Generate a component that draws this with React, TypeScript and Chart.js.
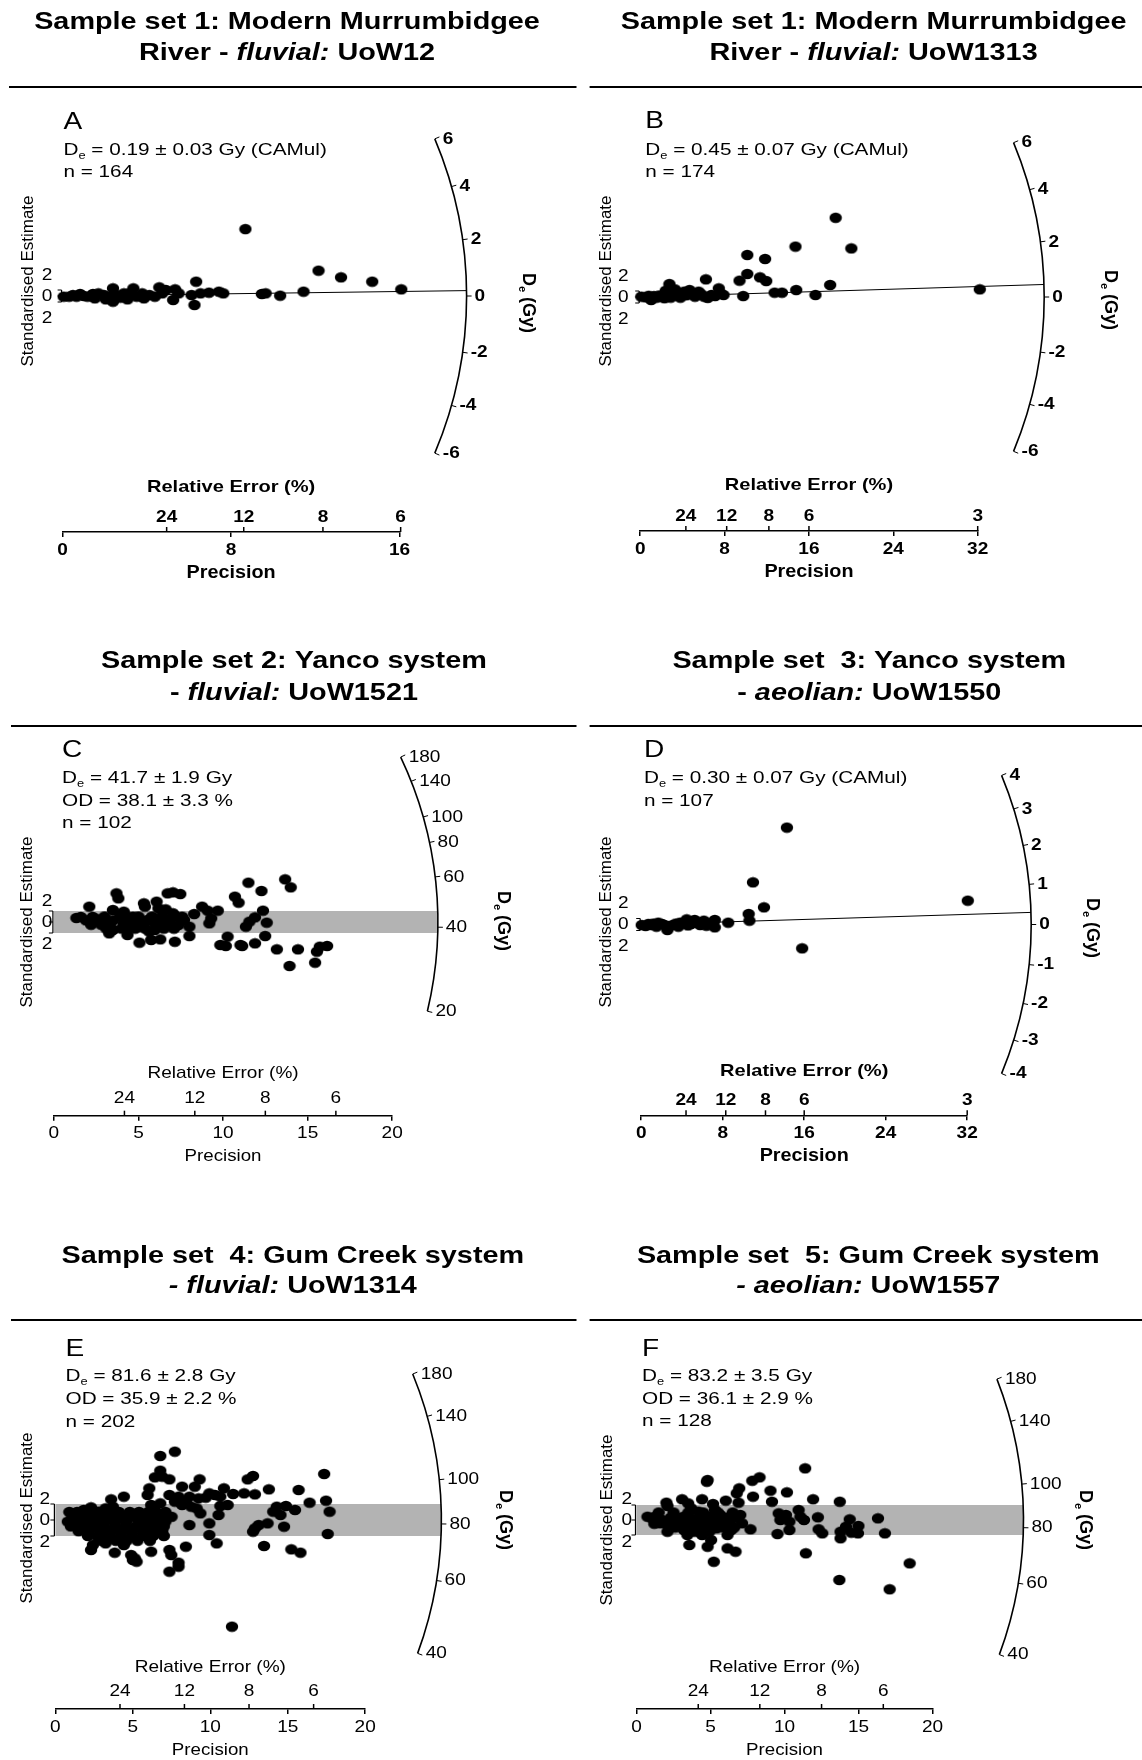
import React, { useEffect, useRef } from 'react';
import { Chart, registerables } from 'chart.js';

Chart.register(...registerables);

const FONT = '"Liberation Sans", Arial, Helvetica, sans-serif';

// ---------------- Data: [precision, standardised estimate] ----------------
const pointsA: [number, number][] = [
  [8.68, 22.3], [12.15, 8.44], [13.22, 6.22], [14.7, 4.78], [16.08, 2.22], [11.44, 1.44], [10.33, 0.11],
  [9.46, 0.67], [9.64, 0.89], [7.42, 1.44], [7.63, 0.89], [6.34, 4.78], [6.26, -3.0], [6.12, 0.33],
  [6.55, 0.89], [6.95, 1.11], [4.59, 2.89], [4.9, 2.0], [5.34, 2.22], [5.51, 0.89], [5.25, -1.33],
  [3.36, 2.56], [2.91, 0.89], [2.39, 2.56], [2.39, -1.89], [2.22, -0.22], [3.78, 0.89], [4.12, 0.33],
  [4.38, -0.22], [4.73, 0.89], [1.7, 0.89], [1.96, 0.33], [1.35, 0], [1.0, 0], [0.66, -0.22],
  [0.31, -0.22], [0.05, -0.22], [2.56, 0.33], [3.17, 0.89], [3.52, -0.22], [3.86, -0.78], [1.53, -0.78],
  [2.05, -1.11], [2.74, -0.56], [3.08, -1.11], [0.49, 0.33], [0.83, 0.67], [1.18, -0.22], [1.44, 0.67],
];

const pointsB: [number, number][] = [
  [18.53, 26.4], [14.72, 16.8], [20.02, 16.2], [10.15, 14.0], [11.84, 12.67], [6.23, 5.89], [10.15, 7.67],
  [9.42, 5.44], [11.36, 6.56], [11.95, 5.33], [18.01, 4.0], [32.2, 2.56], [14.79, 2.33], [12.74, 1.44],
  [13.44, 1.44], [16.62, 0.67], [9.77, 0.33], [7.45, 2.89], [7.62, 1.22], [7.9, 0.67], [2.77, 4.33],
  [4.68, 2.33], [5.54, 1.78], [6.06, 0.11], [0.1, 0.11], [0.52, -0.11], [1.04, -1.0], [1.56, -0.22],
  [2.08, 0.11], [2.6, 0.67], [3.12, 1.22], [3.64, 0.33], [4.16, 1.78], [3.81, -0.22], [4.85, 1.22],
  [5.19, 0.11], [6.75, 0.67], [7.1, 0.33], [2.42, 2.11], [3.29, 2.56], [1.3, 0.3], [2.3, -0.4],
  [2.9, -0.2], [4.4, 0.6], [5.8, 0.9], [6.4, -0.3], [0.8, 0.4], [1.8, 0.5],
];

const pointsC: [number, number][] = [
  [2.09, 2.79], [1.33, 0.73], [1.59, 0.91], [2.3, 0.91], [2.63, 0.48], [3.7, 5.21], [3.81, 4.3],
  [3.49, 2.18], [3.27, -2.06], [3.49, -1.45], [3.92, 1.09], [4.13, 1.88], [4.13, -0.24], [4.46, -0.85],
  [4.35, -2.36], [4.67, 0.97], [4.89, 0.06], [5.0, -0.85], [5.06, -3.76], [5.32, 3.39], [5.38, 2.79],
  [5.53, 0.36], [5.64, -1.76], [5.75, -3.27], [6.07, 3.7], [6.18, 2.48], [6.29, 0.06], [5.96, -1.45],
  [6.29, -3.15], [6.4, 1.09], [6.61, 2.3], [6.72, 5.21], [7.04, 5.39], [7.47, 5.09], [6.83, 0.36],
  [7.04, 1.58], [7.36, -0.55], [7.15, -3.58], [7.58, 0.97], [7.69, 0.36], [8.01, -0.85], [8.01, -2.55],
  [8.29, 1.45], [8.76, 2.79], [9.09, 2.06], [9.69, 2.06], [9.19, -0.24], [9.3, 0.67], [9.84, -4.18],
  [10.27, -2.67], [10.16, -4.36], [10.7, 4.61], [10.92, 3.52], [11.03, -4.18], [11.13, -4.36],
  [11.35, -0.85], [11.56, 0.06], [11.89, 0.85], [11.5, 7.15], [11.89, -3.88], [12.27, 5.64],
  [12.36, 2.06], [12.58, -0.12], [12.49, -2.55], [13.18, -4.97], [13.67, 7.76], [14.0, 6.3],
  [13.93, -8.0], [14.43, -4.97], [15.44, -7.39], [15.55, -5.39], [15.72, -4.48], [16.15, -4.36],
  [1.9, 0.3], [2.9, 0.3], [3.5, 0.3], [4.3, 0.3], [5.1, 0.3], [5.9, 0.3], [6.6, 0.3],
  [2.2, -0.5], [2.8, -0.5], [3.3, -0.5], [4.6, -0.5], [5.3, -0.5], [6.0, -0.5], [6.8, -0.5],
  [3.1, -1.2], [4.0, -1.2], [4.8, -1.2], [5.4, -1.2], [6.5, -1.2], [7.1, -1.2],
  [3.0, 1.0], [4.3, 1.0], [5.0, 1.0], [5.8, 1.0], [7.2, 1.0],
];

const pointsD: [number, number][] = [
  [14.3, 32.3], [10.97, 14.06], [32.06, 7.94], [12.05, 5.72], [10.55, 3.5], [10.62, 1.28], [15.8, -7.94],
  [8.54, 0.61], [0.05, -0.17], [0.43, -0.5], [0.97, -0.17], [1.5, -0.72], [2.04, 0.17], [2.57, -1.83],
  [3.11, -0.17], [3.65, -0.72], [4.47, 1.72], [5.25, 1.5], [6.15, 1.28], [7.22, 1.5], [7.22, -0.94],
  [4.18, 0.39], [4.9, 0.17], [5.79, -0.17], [6.68, 0.39], [1.68, 0.61], [2.75, -0.5], [3.82, 0.61],
  [0.7, 0.2], [1.2, 0.3], [2.3, -0.2], [3.4, 0.3], [4.6, -0.3], [5.5, 0.5], [6.4, -0.4], [7.0, 0.2],
];

const pointsE: [number, number][] = [
  [6.77, 8.0], [7.71, 8.54], [6.77, 6.17], [6.42, 5.33], [6.89, 5.42], [7.36, 5.08], [17.35, 5.75],
  [12.41, 5.08], [12.76, 5.5], [9.31, 5.08], [9.0, 4.17], [6.06, 3.96], [8.18, 4.17], [13.78, 3.83],
  [15.7, 3.75], [9.94, 3.33], [10.88, 3.96], [10.3, 3.13], [10.65, 2.92], [11.47, 3.25], [12.18, 3.33],
  [12.88, 3.21], [5.95, 3.13], [7.36, 3.13], [7.95, 2.92], [8.65, 2.92], [9.24, 2.71], [9.71, 2.79],
  [3.6, 2.58], [4.42, 2.92], [2.3, 1.58], [3.24, 1.46], [3.71, 1.67], [16.41, 2.17], [17.47, 2.42],
  [1.83, 1.25], [2.77, 1.04], [14.29, 1.67], [14.88, 1.75], [15.47, 1.25], [17.7, 1.04], [14.06, 1.04],
  [6.77, 2.08], [6.18, 1.88], [6.3, 1.25], [7.71, 2.29], [8.18, 1.88], [8.42, 2.29], [8.77, 1.67],
  [9.12, 1.46], [9.36, 0.83], [10.53, 0.63], [9.94, -0.42], [8.65, -0.63], [10.65, 1.75], [11.12, 1.88],
  [14.53, 0.63], [14.76, -0.83], [13.7, -0.42], [13.12, -0.63], [12.88, -1.04], [12.76, -1.46],
  [17.58, -1.75], [9.94, -1.88], [10.41, -2.92], [13.47, -3.25], [15.23, -3.67], [15.82, -4.08],
  [2.3, -3.75], [2.42, -3.13], [2.77, -2.29], [3.24, -2.92], [3.83, -4.08], [4.42, -3.13], [4.89, -4.38],
  [5.12, -4.79], [6.18, -3.96], [7.36, -3.75], [7.48, -4.38], [8.42, -3.33], [7.95, -5.33], [5.0, -5.0],
  [5.24, -5.21], [7.36, -6.46], [7.95, -5.83], [11.4, -13.33],
  [0.9, 1.0], [1.4, 1.0], [2.0, 1.0], [2.6, 1.0], [3.4, 1.0], [4.1, 1.0], [4.8, 1.0], [5.4, 1.0], [6.0, 1.0], [6.5, 1.0], [7.1, 1.0],
  [1.1, 0.4], [1.7, 0.4], [2.3, 0.4], [3.0, 0.4], [3.7, 0.4], [4.4, 0.4], [5.1, 0.4], [5.7, 0.4], [6.3, 0.4], [6.9, 0.4], [7.5, 0.4],
  [0.8, -0.2], [1.4, -0.2], [1.95, -0.2], [2.6, -0.2], [3.2, -0.2], [3.9, -0.2], [4.6, -0.2], [5.4, -0.2], [5.9, -0.2], [6.5, -0.2], [7.1, -0.2],
  [1.0, -0.8], [1.7, -0.8], [2.4, -0.8], [3.1, -0.8], [3.8, -0.8], [4.5, -0.8], [5.2, -0.8], [5.8, -0.8], [6.4, -0.8], [7.0, -0.8],
  [1.5, -1.4], [2.2, -1.4], [2.9, -1.4], [3.6, -1.4], [4.3, -1.4], [5.0, -1.4], [5.7, -1.4], [6.3, -1.4], [6.9, -1.4],
  [2.1, -2.0], [2.8, -2.0], [3.5, -2.0], [4.2, -2.0], [4.9, -2.0], [5.6, -2.0], [6.3, -2.0], [7.0, -2.0],
  [3.0, -2.6], [3.9, -2.6], [4.6, -2.6], [5.3, -2.6], [6.1, -2.6],
];

const pointsF: [number, number][] = [
  [11.39, 6.89], [4.8, 5.33], [4.75, 5.1], [7.82, 5.24], [8.31, 5.69], [6.94, 4.22], [6.77, 3.56],
  [7.87, 3.11], [9.05, 3.91], [10.16, 3.69], [9.15, 2.44], [11.93, 2.76], [13.73, 2.44], [2.02, 2.31],
  [2.09, 1.87], [3.08, 2.76], [3.49, 2.22], [4.43, 2.76], [5.17, 2.13], [6.03, 2.58], [6.89, 2.31],
  [0.74, 0.44], [1.35, 0.53], [1.72, 0], [2.09, -0.67], [1.6, -0.44], [2.09, -1.56], [2.71, -0.44],
  [3.2, 0.44], [3.69, 1.56], [4.18, 1.11], [3.94, 0], [4.43, -0.44], [4.92, 0.44], [5.29, 1.33],
  [5.66, 0.67], [5.9, -0.22], [5.41, -1.11], [6.4, 0.44], [7.01, 0.67], [7.13, -0.44], [6.4, -1.33],
  [6.15, -2.0], [3.2, -1.33], [3.44, -2.0], [3.94, -1.56], [4.43, -2.0], [4.92, -1.56], [5.04, -2.67],
  [4.8, -3.56], [3.57, -3.33], [5.22, -5.56], [6.15, -3.78], [6.69, -4.22], [7.7, -1.24], [9.52, -1.87],
  [9.6, 0.89], [10.09, 0.67], [9.72, 0], [10.33, -0.22], [10.33, -1.33], [10.95, 1.33], [11.07, 0.44],
  [11.31, 0], [12.25, 0.36], [12.3, -1.24], [12.55, -1.78], [13.78, -1.56], [13.78, -2.44], [14.15, -0.89],
  [14.4, 0.09], [14.51, -1.69], [14.99, -0.8], [14.96, -1.78], [16.31, 0.22], [16.78, -1.78], [11.44, -4.44],
  [18.45, -5.78], [13.7, -8.0], [17.1, -9.24],
  [1.5, 1.0], [2.5, 1.0], [3.5, 1.0], [4.5, 1.0], [5.5, 1.0], [6.5, 1.0],
  [1.0, 0.3], [2.3, 0.3], [3.0, 0.3], [3.6, 0.3], [4.6, 0.3], [5.2, 0.3], [6.1, 0.3], [6.7, 0.3],
  [1.2, -0.5], [2.4, -0.5], [3.3, -0.5], [4.0, -0.5], [5.0, -0.5], [5.6, -0.5], [6.3, -0.5],
  [2.6, -1.0], [3.6, -1.0], [4.2, -1.0], [4.7, -1.0], [5.9, -1.0], [6.6, -1.0],
];

// ---------------- Tick labels ----------------
const arcTicksAB = [-6, -4, -2, 0, 2, 4, 6];
const arcTicksD = [-4, -3, -2, -1, 0, 1, 2, 3, 4];
const arcTicksC = [20, 40, 60, 80, 100, 140, 180];
const arcTicksEF = [40, 60, 80, 100, 140, 180];

const reLabelsA = [24, 12, 8, 6];
const rePosA = [4.94, 8.6, 12.36, 16.05];
const reLabelsBD = [24, 12, 8, 6, 3];
const rePosB = [4.33, 8.2, 12.2, 16.0, 32];
const rePosD = [4.4, 8.3, 12.2, 16.0, 32];
const reLabelsCEF = [24, 12, 8, 6];
const rePosCEF = [4.17, 8.33, 12.5, 16.67];

type Seg = { t: string; i?: boolean };

interface Panel {
  id: string;
  left: number; top: number; w: number; h: number;
  title1: string; title2: Seg[]; titleX: number; titleY1: number; titleY2: number;
  sepY: number; sepSegs: [number, number][];
  letterX: number; letterY: number;
  deText: string; extraStats: string[]; statsX: number; statsY: number[];
  points: [number, number][];
  xMax: number; xStep: number;
  originX: number; originY: number; axisY: number; axisRight: number; pyz: number;
  reLabels: number[]; rePos: number[]; reLabelOff: number; reTitleOff: number;
  arcTicks: number[]; arcMode: 'lin' | 'log'; arcK: number; arcRef: number; arcR: number;
  central: number; band: boolean; bold: boolean;
  yLabelX: number; yLabelY: number; yTickX: number; deLabelX: number; deLabelY: number;
}

const panels: Panel[] = [
  {
    id: 'A', left: 0, top: 0, w: 571, h: 640,
    title1: 'Sample set 1: Modern Murrumbidgee', title2: [{ t: 'River - ' }, { t: 'fluvial:', i: true }, { t: ' UoW12' }],
    titleX: 287, titleY1: 22, titleY2: 53, sepY: 87, sepSegs: [[9, 571]],
    letterX: 63.4, letterY: 123, deText: ' = 0.19 ± 0.03 Gy (CAMul)', extraStats: ['n = 164'], statsX: 63.4, statsY: [150, 172],
    points: pointsA, xMax: 16, xStep: 8,
    originX: 62.6, originY: 296, axisY: 532, axisRight: 399.6, pyz: 3,
    reLabels: reLabelsA, rePos: rePosA, reLabelOff: 15, reTitleOff: 45,
    arcTicks: arcTicksAB, arcMode: 'lin', arcK: 0.494, arcRef: 0, arcR: 404,
    central: 0.19, band: false, bold: true,
    yLabelX: 28.4, yLabelY: 281, yTickX: 47, deLabelX: 527.7, deLabelY: 303,
  },
  {
    id: 'B', left: 571, top: 0, w: 571, h: 640,
    title1: 'Sample set 1: Modern Murrumbidgee', title2: [{ t: 'River - ' }, { t: 'fluvial:', i: true }, { t: ' UoW1313' }],
    titleX: 302.6, titleY1: 22, titleY2: 53, sepY: 87, sepSegs: [[0, 5.5], [18.6, 571]],
    letterX: 74.3, letterY: 122, deText: ' = 0.45 ± 0.07 Gy (CAMul)', extraStats: ['n = 174'], statsX: 74.3, statsY: [150, 172],
    points: pointsB, xMax: 32, xStep: 8,
    originX: 69.2, originY: 297, axisY: 531, axisRight: 406.7, pyz: 3,
    reLabels: reLabelsBD, rePos: rePosB, reLabelOff: 14.5, reTitleOff: 46,
    arcTicks: arcTicksAB, arcMode: 'lin', arcK: 0.2422, arcRef: 0, arcR: 404,
    central: 0.45, band: false, bold: true,
    yLabelX: 35, yLabelY: 281, yTickX: 52.4, deLabelX: 538.6, deLabelY: 300,
  },
  {
    id: 'C', left: 0, top: 640, w: 571, h: 590,
    title1: 'Sample set 2: Yanco system', title2: [{ t: '- ' }, { t: 'fluvial:', i: true }, { t: ' UoW1521' }],
    titleX: 293.9, titleY1: 21.7, titleY2: 53.3, sepY: 86, sepSegs: [[11, 571]],
    letterX: 62, letterY: 111, deText: ' = 41.7 ± 1.9 Gy', extraStats: ['OD = 38.1 ± 3.3 %', 'n = 102'], statsX: 62, statsY: [138.3, 161.7, 183.3],
    points: pointsC, xMax: 20, xStep: 5,
    originX: 53.9, originY: 282, axisY: 475.7, axisRight: 392.2, pyz: 5.5,
    reLabels: reLabelsCEF, rePos: rePosCEF, reLabelOff: 17.4, reTitleOff: 42.4,
    arcTicks: arcTicksC, arcMode: 'log', arcK: 1, arcRef: 41.7, arcR: 384,
    central: 41.7, band: true, bold: false,
    yLabelX: 27.3, yLabelY: 282, yTickX: 47, deLabelX: 502.6, deLabelY: 281,
  },
  {
    id: 'D', left: 571, top: 640, w: 571, h: 590,
    title1: 'Sample set  3: Yanco system', title2: [{ t: '- ' }, { t: 'aeolian:', i: true }, { t: ' UoW1550' }],
    titleX: 298.3, titleY1: 21.7, titleY2: 53.3, sepY: 86, sepSegs: [[0, 5.5], [18.6, 571]],
    letterX: 72.9, letterY: 111, deText: ' = 0.30 ± 0.07 Gy (CAMul)', extraStats: ['n = 107'], statsX: 72.9, statsY: [138.3, 161],
    points: pointsD, xMax: 32, xStep: 8,
    originX: 70.2, originY: 284.5, axisY: 475.3, axisRight: 396.2, pyz: 3,
    reLabels: reLabelsBD, rePos: rePosD, reLabelOff: 15.3, reTitleOff: 44.3,
    arcTicks: arcTicksD, arcMode: 'lin', arcK: 0.3512, arcRef: 0, arcR: 390,
    central: 0.30, band: false, bold: true,
    yLabelX: 35, yLabelY: 282, yTickX: 52.4, deLabelX: 521, deLabelY: 288,
  },
  {
    id: 'E', left: 0, top: 1230, w: 571, h: 530,
    title1: 'Sample set  4: Gum Creek system', title2: [{ t: '- fluvial:', i: true }, { t: ' UoW1314' }],
    titleX: 292.8, titleY1: 26.7, titleY2: 56.7, sepY: 90, sepSegs: [[11, 571]],
    letterX: 65.5, letterY: 120, deText: ' = 81.6 ± 2.8 Gy', extraStats: ['OD = 35.9 ± 2.2 %', 'n = 202'], statsX: 65.5, statsY: [146.7, 169.3, 192.3],
    points: pointsE, xMax: 20, xStep: 5,
    originX: 55.4, originY: 290, axisY: 479, axisRight: 365.2, pyz: 8,
    reLabels: reLabelsCEF, rePos: rePosCEF, reLabelOff: 17.3, reTitleOff: 41.7,
    arcTicks: arcTicksEF, arcMode: 'log', arcK: 1, arcRef: 81.6, arcR: 386,
    central: 81.6, band: true, bold: false,
    yLabelX: 27.3, yLabelY: 288, yTickX: 44.8, deLabelX: 504.7, deLabelY: 290,
  },
  {
    id: 'F', left: 571, top: 1230, w: 571, h: 530,
    title1: 'Sample set  5: Gum Creek system', title2: [{ t: '- aeolian:', i: true }, { t: ' UoW1557' }],
    titleX: 297.2, titleY1: 26.7, titleY2: 56.7, sepY: 90, sepSegs: [[0, 5.5], [18.6, 571]],
    letterX: 71, letterY: 120, deText: ' = 83.2 ± 3.5 Gy', extraStats: ['OD = 36.1 ± 2.9 %', 'n = 128'], statsX: 71, statsY: [146.7, 169.3, 191.7],
    points: pointsF, xMax: 20, xStep: 5,
    originX: 65.5, originY: 290, axisY: 479, axisRight: 361.6, pyz: 7.5,
    reLabels: reLabelsCEF, rePos: rePosCEF, reLabelOff: 17.3, reTitleOff: 41.7,
    arcTicks: arcTicksEF, arcMode: 'log', arcK: 1, arcRef: 83.2, arcR: 387,
    central: 83.2, band: true, bold: false,
    yLabelX: 36, yLabelY: 290, yTickX: 55.7, deLabelX: 513.5, deLabelY: 290,
  },
];

const AXIS_H = 51;
const TOP_PAD = 95;
const SX_TITLE = 1.2;
const SX_STATS = 1.22;
const SX_SMALL = 1.12;

function font(size: number, bold = false, italic = false) {
  return `${italic ? 'italic ' : ''}${bold ? 'bold ' : ''}${size}px ${FONT}`;
}

function text(ctx: CanvasRenderingContext2D, s: string, x: number, y: number, f: string, align: CanvasTextAlign = 'left', sx = 1) {
  ctx.save();
  ctx.font = f;
  ctx.textAlign = align;
  ctx.textBaseline = 'middle';
  ctx.fillStyle = '#000';
  ctx.translate(x, y);
  ctx.scale(sx, 1);
  ctx.fillText(s, 0, 0);
  ctx.restore();
}

function deWidth(ctx: CanvasRenderingContext2D, size: number, bold: boolean, rest: string) {
  ctx.font = font(size, bold);
  let w = ctx.measureText('D').width;
  ctx.font = font(size * 0.62, bold);
  w += ctx.measureText('e').width;
  ctx.font = font(size, bold);
  w += ctx.measureText(rest).width;
  return w;
}
function drawDe(ctx: CanvasRenderingContext2D, size: number, bold: boolean, rest: string) {
  ctx.textAlign = 'left';
  ctx.textBaseline = 'middle';
  ctx.fillStyle = '#000';
  ctx.font = font(size, bold);
  ctx.fillText('D', 0, 0);
  let w = ctx.measureText('D').width;
  ctx.font = font(size * 0.62, bold);
  ctx.fillText('e', w, size * 0.33);
  w += ctx.measureText('e').width;
  ctx.font = font(size, bold);
  ctx.fillText(rest, w, 0);
}

function slopeOf(p: Panel, v: number) {
  return p.arcMode === 'log' ? Math.log(v / p.arcRef) : p.arcK * v;
}

function makePlugin(p: Panel) {
  return {
    id: 'radialDecor' + p.id,
    beforeDatasetsDraw(chart: any) {
      const ctx: CanvasRenderingContext2D = chart.ctx;
      const xs = chart.scales.x, ys = chart.scales.y;
      const ox = xs.getPixelForValue(0), oy = ys.getPixelForValue(0);
      const ratio = (oy - ys.getPixelForValue(1)) / (xs.getPixelForValue(1) - ox);
      ctx.save();
      if (p.band) {
        const y1 = ys.getPixelForValue(2), y2 = ys.getPixelForValue(-2);
        ctx.fillStyle = '#b3b3b3';
        ctx.fillRect(ox, y1, p.arcR, y2 - y1);
      } else {
        const th = Math.atan(slopeOf(p, p.central) * ratio);
        ctx.strokeStyle = '#000';
        ctx.lineWidth = 1;
        ctx.beginPath();
        ctx.moveTo(ox, oy);
        ctx.lineTo(ox + p.arcR * Math.cos(th), oy - p.arcR * Math.sin(th));
        ctx.stroke();
      }
      ctx.restore();
    },
    afterDraw(chart: any) {
      const ctx: CanvasRenderingContext2D = chart.ctx;
      const xs = chart.scales.x, ys = chart.scales.y;
      const ox = xs.getPixelForValue(0), oy = ys.getPixelForValue(0);
      const ratio = (oy - ys.getPixelForValue(1)) / (xs.getPixelForValue(1) - ox);
      const axisY = chart.chartArea.bottom;
      const b = p.bold;

      // Title
      const TS = 24;
      text(ctx, p.title1, p.titleX, p.titleY1, font(TS, true), 'center', SX_TITLE);
      ctx.save();
      let tw = 0;
      for (const s of p.title2) { ctx.font = font(TS, true, !!s.i); tw += ctx.measureText(s.t).width; }
      ctx.translate(p.titleX, p.titleY2);
      ctx.scale(SX_TITLE, 1);
      let cx = -tw / 2;
      ctx.textBaseline = 'middle';
      ctx.textAlign = 'left';
      ctx.fillStyle = '#000';
      for (const s of p.title2) {
        ctx.font = font(TS, true, !!s.i);
        ctx.fillText(s.t, cx, 0);
        cx += ctx.measureText(s.t).width;
      }
      ctx.restore();

      // separator
      ctx.save();
      ctx.strokeStyle = '#000';
      ctx.lineWidth = 2;
      for (const [a, c] of p.sepSegs) {
        ctx.beginPath(); ctx.moveTo(a, p.sepY); ctx.lineTo(c, p.sepY); ctx.stroke();
      }
      ctx.restore();

      // letter and stats
      text(ctx, p.id, p.letterX, p.letterY, font(23), 'left', SX_STATS);
      ctx.save();
      ctx.translate(p.statsX, p.statsY[0]);
      ctx.scale(SX_STATS, 1);
      drawDe(ctx, 17, false, p.deText);
      ctx.restore();
      p.extraStats.forEach((s, i) => text(ctx, s, p.statsX, p.statsY[i + 1], font(17), 'left', SX_STATS));

      // y-axis label
      ctx.save();
      ctx.translate(p.yLabelX, p.yLabelY);
      ctx.rotate(-Math.PI / 2);
      text(ctx, 'Standardised Estimate', 0, 0, font(17), 'center');
      ctx.restore();

      // y ticks (2, 0, 2) and bracket
      text(ctx, '2', p.yTickX, oy - 21, font(17), 'center', SX_SMALL);
      text(ctx, '0', p.yTickX, oy, font(17), 'center', SX_SMALL);
      text(ctx, '2', p.yTickX, oy + 22, font(17), 'center', SX_SMALL);
      ctx.save();
      ctx.strokeStyle = '#000';
      ctx.lineWidth = 1.2;
      const bx = ox - 1;
      const yt = ys.getPixelForValue(2), yb = ys.getPixelForValue(-2);
      ctx.beginPath();
      ctx.moveTo(bx, yt); ctx.lineTo(bx, yb);
      for (const yy of [yt, oy, yb]) { ctx.moveTo(bx, yy); ctx.lineTo(bx - 4, yy); }
      ctx.stroke();
      ctx.restore();

      // arc axis
      const angs = p.arcTicks.map((v) => Math.atan(slopeOf(p, v) * ratio));
      const thMin = Math.min(...angs), thMax = Math.max(...angs);
      const r = p.arcR;
      ctx.save();
      ctx.strokeStyle = '#000';
      ctx.lineWidth = 1.6;
      ctx.beginPath();
      ctx.arc(ox, oy, r, -thMax, -thMin, false);
      ctx.stroke();
      ctx.lineWidth = 1;
      p.arcTicks.forEach((v, i) => {
        const th = angs[i];
        const c = Math.cos(th), s = Math.sin(th);
        ctx.beginPath();
        ctx.moveTo(ox + r * c, oy - r * s);
        ctx.lineTo(ox + (r + 5) * c, oy - (r + 5) * s);
        ctx.stroke();
        text(ctx, String(v), ox + r * c + 8, oy - r * s, font(17, b), 'left', SX_SMALL);
      });
      ctx.restore();

      // De (Gy) label, rotated
      ctx.save();
      ctx.translate(p.deLabelX, p.deLabelY);
      ctx.rotate(Math.PI / 2);
      const dw = deWidth(ctx, 18, true, ' (Gy)');
      ctx.translate(-dw / 2, 0);
      drawDe(ctx, 18, true, ' (Gy)');
      ctx.restore();

      // Relative error axis (ticks above precision axis)
      ctx.save();
      ctx.strokeStyle = '#000';
      ctx.lineWidth = 1.5;
      p.rePos.forEach((pos, i) => {
        const x = xs.getPixelForValue(pos);
        ctx.beginPath(); ctx.moveTo(x, axisY); ctx.lineTo(x, axisY - 5); ctx.stroke();
        text(ctx, String(p.reLabels[i]), x, axisY - p.reLabelOff, font(17, b), 'center', SX_SMALL);
      });
      ctx.restore();
      const midX = (xs.left + xs.right) / 2;
      text(ctx, 'Relative Error (%)', midX, axisY - p.reTitleOff, font(17, b), 'center', b ? 1.18 : 1.12);

      // precision tick labels and title (from the Chart.js x scale ticks)
      for (const t of xs.ticks) {
        text(ctx, String(t.value), xs.getPixelForValue(t.value), axisY + 18, font(17, b), 'center', SX_SMALL);
      }
      text(ctx, 'Precision', midX, axisY + 41, font(b ? 18 : 17, b), 'center', 1.1);
    },
  };
}

function makeDot(): HTMLCanvasElement {
  const c = document.createElement('canvas');
  c.width = 14;
  c.height = 12;
  const g = c.getContext('2d')!;
  g.fillStyle = '#000';
  g.beginPath();
  g.ellipse(7, 6, 6.2, 5.3, 0, 0, Math.PI * 2);
  g.fill();
  return c;
}

function buildConfig(p: Panel, dot: HTMLCanvasElement): any {
  const yMax = (p.originY - TOP_PAD) / p.pyz;
  const yMin = -(p.axisY - p.originY) / p.pyz;
  return {
    type: 'scatter',
    data: {
      datasets: [
        {
          data: p.points.map(([x, y]) => ({ x, y })),
          pointStyle: dot,
          pointRadius: 6,
          pointHoverRadius: 6,
          pointBorderWidth: 0,
          pointBackgroundColor: '#000',
          backgroundColor: '#000',
          borderColor: '#000',
          clip: false,
        },
      ],
    },
    options: {
      animation: false,
      responsive: false,
      maintainAspectRatio: false,
      events: [],
      layout: {
        padding: { left: p.originX, right: p.w - p.axisRight, top: TOP_PAD, bottom: p.h - p.axisY - AXIS_H },
      },
      plugins: { legend: { display: false }, tooltip: { enabled: false }, title: { display: false } },
      scales: {
        x: {
          type: 'linear',
          position: 'bottom',
          min: 0,
          max: p.xMax,
          ticks: {
            display: false,
            stepSize: p.xStep,
            autoSkip: false,
            maxRotation: 0,
            minRotation: 0,
          },
          grid: { display: true, drawOnChartArea: false, drawTicks: true, tickLength: 5, color: '#000', lineWidth: 1.5 },
          border: { display: true, color: '#000', width: 1.5 },
          title: { display: false },
          afterFit: (scale: any) => {
            scale.height = AXIS_H;
          },
        },
        y: { type: 'linear', display: false, min: yMin, max: yMax },
      },
    },
    plugins: [makePlugin(p)],
  };
}

function RadialPanel({ p }: { p: Panel }) {
  const ref = useRef<HTMLCanvasElement>(null);
  useEffect(() => {
    const canvas = ref.current;
    if (!canvas) return;
    const chart = new Chart(canvas, buildConfig(p, makeDot()));
    return () => chart.destroy();
  }, [p]);
  return (
    <canvas
      ref={ref}
      width={p.w}
      height={p.h}
      style={{ position: 'absolute', left: p.left, top: p.top, width: p.w, height: p.h, display: 'block' }}
    />
  );
}

export default function App() {
  return (
    <div style={{ position: 'absolute', left: 0, top: 0, width: 1142, height: 1760, background: '#fff', overflow: 'hidden' }}>
      {panels.map((p) => (
        <RadialPanel key={p.id} p={p} />
      ))}
    </div>
  );
}
